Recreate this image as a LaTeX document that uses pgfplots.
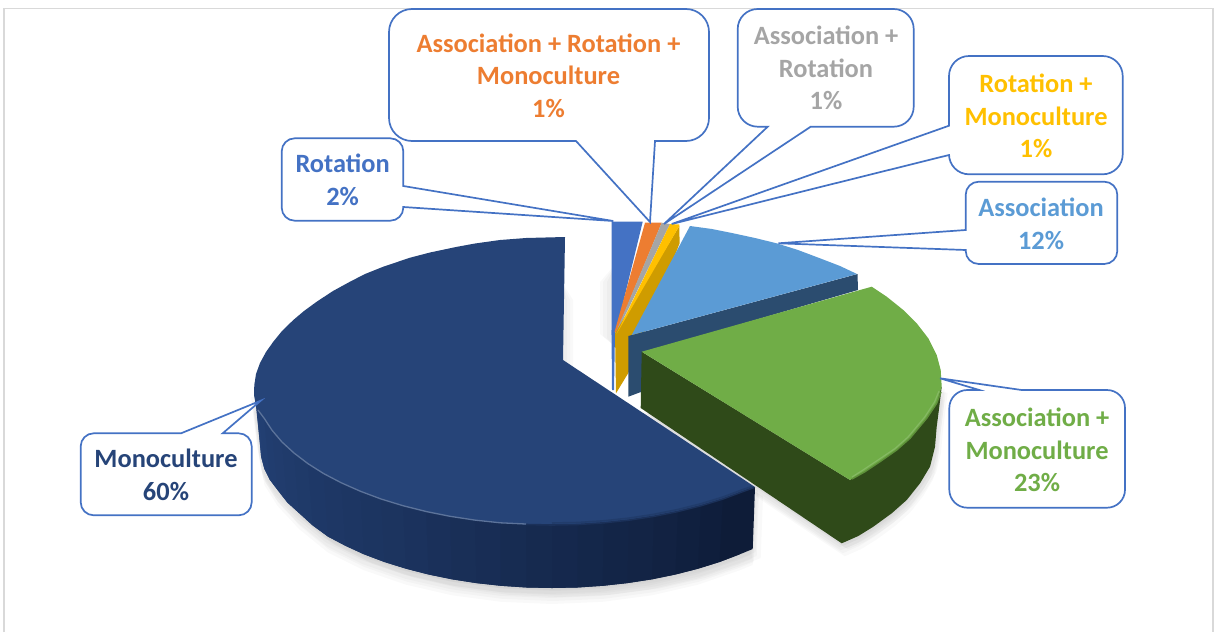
\documentclass[border=0pt]{standalone}
\usepackage{pgfplots}
\pgfplotsset{compat=1.18}
\usepackage{pgfplotstable}
\usepackage{fontspec}
\setmainfont{Carlito}
\definecolor{cbl}{HTML}{4472C4}
\definecolor{cor}{HTML}{ED7D31}
\definecolor{cgr}{HTML}{A5A5A5}
\definecolor{cye}{HTML}{FFC000}
\definecolor{clb}{HTML}{5B9BD5}
\definecolor{cgn}{HTML}{70AD47}
\definecolor{cmo}{HTML}{264478}
\definecolor{sideL}{HTML}{244277}
\definecolor{sideR}{HTML}{0D1A35}
\definecolor{cgold}{HTML}{CF9C00}
\definecolor{cblside}{HTML}{2B4C6F}
\definecolor{cgnside}{HTML}{2F4A19}
\definecolor{cframe}{HTML}{D9D9D9}
\pgfplotstableread{
x y
254 395
260 444
264.4 469
277.6 490
299 513
328 536.6
364 554.3
406 568.7
452 579.3
501 585.8
552 588
602.7 585.8
652 579.3
698 568.7
739.7 554.3
752.7 549
755 487
600 400
}\monoshadow
\pgfplotstableread{
x y
640.7 408
841.7 543.3
858.3 536
873.3 526.7
891.7 513.3
906.7 500
920 483.3
930 466.7
935 446.7
936.7 426.7
941.7 386.7
800 380
}\greenshadow
\pgfplotstableread{
x y
565 237
526 238
500 240
475 243.5
456 247
430 252.5
410 257.7
383.3 266.7
365 274
350 281.7
333 291
316.7 301.7
304 311
293.3 320
282 331
273.3 341.7
266 352
260 363
256 374
254.3 385
254 395
256 406
264.2 418.3
272 430.2
281.9 441.9
294 453
307.9 463.6
323.7 473.6
341.3 482.8
360.5 491.3
381.1 499
403 505.7
426.1 511.5
450.1 516.3
474.9 520.1
500.3 522.8
526 524.5
552 525
578 524.5
603.7 522.8
629.1 520.1
653.9 516.3
677.9 511.5
701 505.7
722.9 499
743.5 491.3
755 487
563 360
}\monotop
\newcommand\sq[2]{\addplot[fill=sideL!#1!sideR,draw=none] coordinates {#2};}
\newcommand\shad[3]{\addplot[fill=black,draw=none,opacity=.022,xshift=#1pt,yshift=#2pt] table {#3};}
\newcommand\callout[7]{%
 \draw[cbl,line width=1.7pt,fill=white,rounded corners=#1pt] #2 [sharp corners] #3 -- #4 -- #5 -- cycle;
 \node[align=center,text=#6,inner sep=0pt,font=\fontsize{26.4}{32.5}\selectfont\bfseries] #7;}
\begin{document}
\begin{tikzpicture}
\begin{axis}[scale only axis,width=1214pt,height=632pt,xmin=0,xmax=1214,ymin=0,ymax=632,y dir=reverse,hide axis]
\path[use as bounding box] (axis cs:0,0) rectangle (axis cs:1214,632);
% frame
\addplot[cframe,line width=1.3pt] coordinates {(4,632)(4,8.3)(1213,8.3)(1213,632)};
% soft shadows
\shad{-3}{-2}{\monoshadow}
\shad{3}{-3}{\monoshadow}
\shad{-2}{-6}{\monoshadow}
\shad{4}{-7}{\monoshadow}
\shad{-1}{-10}{\monoshadow}
\shad{8}{-9}{\monoshadow}
\shad{1}{-13}{\monoshadow}
\shad{0}{-16}{\monoshadow}
\shad{3}{-2}{\greenshadow}
\shad{-2}{-4}{\greenshadow}
\shad{4}{-5}{\greenshadow}
\shad{-1}{-7}{\greenshadow}
\shad{6}{-6}{\greenshadow}
\shad{1}{-10}{\greenshadow}
\shad{3}{-13}{\greenshadow}
\addplot[fill=black,draw=none,opacity=.025] coordinates {(563,284)(573,300)(573,368)(563,362)};
\addplot[fill=black,draw=none,opacity=.025] coordinates {(563,286)(570,300)(570,366)(563,362)};
\addplot[fill=black,draw=none,opacity=.025] coordinates {(563,288)(567,300)(567,364)(563,362)};
\addplot[fill=black,draw=none,opacity=.025] coordinates {(612,268)(600,282)(600,334)(612,344)};
\addplot[fill=black,draw=none,opacity=.025] coordinates {(612,270)(603,282)(603,336)(612,344)};
\addplot[fill=black,draw=none,opacity=.025] coordinates {(612,272)(607,282)(607,338)(612,344)};
% thin slices
\addplot[fill=cbl,draw=none] coordinates {(611.5,330)(612,390)(614,390)(615,332)};
\addplot[fill=cbl,draw=none] coordinates {(611.7,221.7)(642.7,221.7)(616,332)(611.5,335)};
\addplot[fill=cor,draw=none] coordinates {(645,222.7)(661.7,222.7)(616.5,332)(614.5,332)};
\addplot[fill=cgr,draw=none] coordinates {(661.7,222.7)(670,224)(617,332)(616,332)};
\addplot[fill=cgold,draw=none] coordinates {(679.3,226)(679.6,243.3)(628.3,373)(616,393.3)(615,333.3)};
\addplot[fill=cye,draw=none] coordinates {(670,224)(679.3,224.5)(679.3,226)(616.5,334)};
% association
\addplot[fill=cblside,draw=none] coordinates {(628.3,336)(857.5,274)(858,290)(642,353)(641.7,391.7)(628.3,396.7)};
\addplot[fill=clb,draw=none] coordinates {(631.7,335)(690,226)(712,229)(733.3,233.3)(755,238)(776.7,243.3)(798,250)(820,258.3)(840,266)(857,274)};
% assoc + mono
\addplot[fill=cgnside,draw=none] coordinates {(641.7,351.7)(640.7,408)(841.7,543.3)(858.3,536)(873.3,526.7)(891.7,513.3)(906.7,500)(920,483.3)(930,466.7)(935,446.7)(936.7,426.7)(939.3,406.7)(941.7,386.7)(850,480)};
\addplot[fill=cgn,draw=none] coordinates {(641.7,351.7)(871.7,286.7)(886.7,296.7)(903.3,310)(916.7,323.3)(928.3,338.3)(936.7,355)(940.7,370)(941.7,386.7)(936.7,403.3)(926.7,418.3)(910,438.3)(896.7,450)(880,461.7)(865,471.7)(850,480)};
\addplot[color=cgn!70!cgnside,line width=1.4pt] coordinates {(941,392)(936.7,403.3)(926.7,418.3)(910,438.3)(896.7,450)(880,461.7)(865,471.7)(852,479)};
\addplot[color=cgn!85!white,line width=1.2pt] coordinates {(939,391)(934.5,402)(924.7,417)(908,437)(895,448.5)(878,460)(863,470)(852,477)};
% monoculture side
\sq{100}{(254.3,390)(260,444)(261.1,456.6)(264.4,469)(258.5,406)}
\sq{96}{(255.1,393.6)(261.1,456.6)(264.4,469)(270,480)(264.2,418.3)}
\sq{92}{(258.5,406)(264.4,469)(270,480)(277.6,490)(272,430.2)}
\sq{88}{(264.2,418.3)(270,480)(277.6,490)(287.4,502.5)(281.9,441.9)}
\sq{85}{(272,430.2)(277.6,490)(287.4,502.5)(299,513)(294,453)}
\sq{82}{(281.9,441.9)(287.4,502.5)(299,513)(312.8,525.5)(307.9,463.6)}
\sq{79}{(294,453)(299,513)(312.8,525.5)(328,536.6)(323.7,473.6)}
\sq{76}{(307.9,463.6)(312.8,525.5)(328,536.6)(345.5,545.8)(341.3,482.8)}
\sq{73}{(323.7,473.6)(328,536.6)(345.5,545.8)(364,554.3)(360.5,491.3)}
\sq{70}{(341.3,482.8)(345.5,545.8)(364,554.3)(384.5,562)(381.1,499)}
\sq{67}{(360.5,491.3)(364,554.3)(384.5,562)(406,568.7)(403,505.7)}
\sq{64}{(381.1,499)(384.5,562)(406,568.7)(428.6,574.5)(426.1,511.5)}
\sq{60}{(403,505.7)(406,568.7)(428.6,574.5)(452,579.3)(450.1,516.3)}
\sq{56}{(426.1,511.5)(428.6,574.5)(452,579.3)(476.4,583.1)(474.9,520.1)}
\sq{52}{(450.1,516.3)(452,579.3)(476.4,583.1)(501,585.8)(500.3,522.8)}
\sq{48}{(474.9,520.1)(476.4,583.1)(501,585.8)(526.5,587.5)(526,524.5)}
\sq{44}{(500.3,522.8)(501,585.8)(526.5,587.5)(552,588)(552,525)}
\sq{40}{(526,524.5)(526.5,587.5)(552,588)(577.5,587.5)(578,524.5)}
\sq{36}{(552,525)(552,588)(577.5,587.5)(602.7,585.8)(603.7,522.8)}
\sq{32}{(578,524.5)(577.5,587.5)(602.7,585.8)(627.4,583.1)(629.1,520.1)}
\sq{28}{(603.7,522.8)(602.7,585.8)(627.4,583.1)(652,579.3)(653.9,516.3)}
\sq{24}{(629.1,520.1)(627.4,583.1)(652,579.3)(675.4,574.5)(677.9,511.5)}
\sq{20}{(653.9,516.3)(652,579.3)(675.4,574.5)(698,568.7)(701,505.7)}
\sq{15}{(677.9,511.5)(675.4,574.5)(698,568.7)(719.5,562)(722.9,499)}
\sq{10}{(701,505.7)(698,568.7)(719.5,562)(739.7,554.3)(743.5,491.3)}
\sq{5}{(722.9,499)(719.5,562)(739.7,554.3)(752.7,549)(755,487)}
\addplot[fill=cmo,draw=none] table {\monotop};
% rim highlight and blur
\addplot[color=cmo!55!sideR,line width=1.6pt] coordinates {(526,524.5)(552,525)(578,524.5)(603.7,522.8)(629.1,520.1)(653.9,516.3)(677.9,511.5)(701,505.7)(722.9,499)(743.5,491.3)(754,487.5)};
\addplot[color=cmo!80!sideR,line width=1.6pt] coordinates {(552,523)(578,522.5)(603.7,520.8)(629.1,518.1)(653.9,514.3)(677.9,509.5)(701,503.7)(722.9,497)(743.5,489.3)(752,486.5)};
\addplot[color=cmo!75!white,line width=1.3pt] coordinates {(258,410)(264.2,418.3)(272,430.2)(281.9,441.9)(294,453)(307.9,463.6)(323.7,473.6)(341.3,482.8)(360.5,491.3)(381.1,499)(403,505.7)(426.1,511.5)(450.1,516.3)(474.9,520.1)(500.3,522.8)(526,524)};
% callouts
\callout{13}{(403.3,207)--(403.3,220.7)--(281.7,220.7)--(281.7,138.3)--(403.3,138.3)}{--(403.3,186)}{(613.3,221)}{(403.3,207)}{cbl}{at (342.6,180) {Rotation\\2\%}}
\callout{23}{(655,141)--(709,141)--(709,9)--(389,9)--(389,141)}{--(576,141)}{(650,222)}{(655,141)}{cor}{at (548.5,75.5) {Association + Rotation +\\Monoculture\\1\%}}
\callout{20}{(810.7,126.7)--(913.7,126.7)--(913.7,9)--(737.7,9)--(737.7,126.7)}{--(767.7,126.7)}{(664,224)}{(810.7,126.7)}{cgr}{at (826,68) {Association +\\Rotation\\1\%}}
\callout{20}{(949,155)--(949,174.3)--(1122.7,174.3)--(1122.7,56)--(949,56)}{--(949,125.7)}{(671.7,224)}{(949,155)}{cye}{at (1036,116) {Rotation +\\Monoculture\\1\%}}
\callout{13}{(965.7,250)--(965.7,264)--(1117.3,264)--(1117.3,181.7)--(965.7,181.7)}{--(965.7,230)}{(778.3,243.3)}{(965.7,250)}{clb}{at (1041,224) {Association\\12\%}}
\callout{18}{(1021.7,390)--(1125,390)--(1125,507.7)--(949.3,507.7)--(949.3,390)}{--(979.3,390)}{(940,378.3)}{(1021.7,390)}{cgn}{at (1037,450) {Association +\\Monoculture\\23\%}}
\callout{13}{(222.7,433.3)--(251.7,433.3)--(251.7,515.3)--(80.7,515.3)--(80.7,433.3)}{--(181,433.3)}{(260.7,400.7)}{(222.7,433.3)}{cmo}{at (166,475) {Monoculture\\60\%}}
\end{axis}
\end{tikzpicture}
\end{document}
